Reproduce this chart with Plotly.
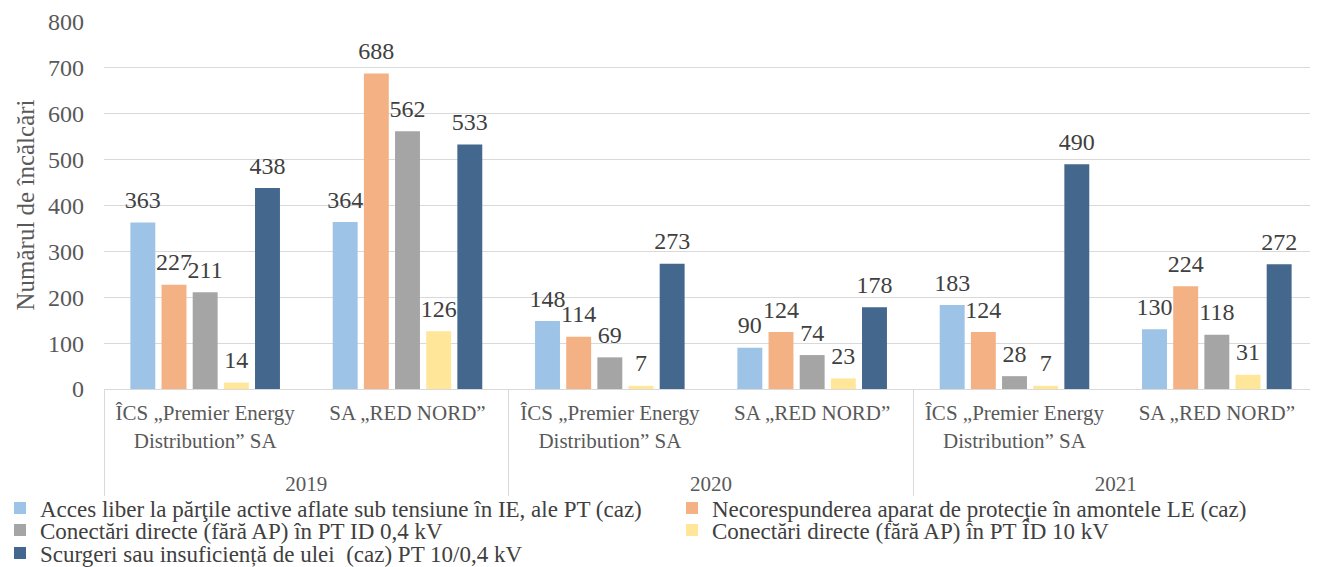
import plotly.graph_objects as go

years = ["2019", "2019", "2020", "2020", "2021", "2021"]
companies = ["ÎCS „Premier Energy<br>Distribution” SA<br><span style=\"font-size:1px\">&nbsp;</span>",
             "SA „RED NORD”"] * 3

series_names = [
    "Acces liber la părţile active aflate sub tensiune în IE, ale PT (caz)",
    "Necorespunderea aparat de protecție în amontele LE (caz)",
    "Conectări directe (fără AP) în PT ID 0,4 kV",
    "Conectări directe (fără AP) în PT ÎD 10 kV",
    "Scurgeri sau insuficiență de ulei  (caz) PT 10/0,4 kV",
]
acces_liber = [363, 364, 148, 90, 183, 130]
necorespundere = [227, 688, 114, 124, 124, 224]
conectari_04 = [211, 562, 69, 74, 28, 118]
conectari_10 = [14, 126, 7, 23, 7, 31]
scurgeri = [438, 533, 273, 178, 490, 272]
series_values = [acces_liber, necorespundere, conectari_04, conectari_10, scurgeri]

colors = ["#9DC3E6", "#F4B183", "#A5A5A5", "#FFE699", "#44678D"]
FONT = "Liberation Serif, Times New Roman, DejaVu Serif, serif"

# page has an 8px body margin: figure drawn at (8, 8)
W, H = 1310, 559
L, T, PW, PH = 96, 14, 1214, 367
# legend slots: (column x in px, row centre in px)
col_x = [-8, 664]
row_y = [500, 522, 545]
slots = [(0, 0), (1, 0), (0, 1), (1, 1), (0, 2)]
legend_ids = ["legend", "legend2", "legend3", "legend4", "legend5"]

fig = go.Figure()
for i, (name, vals) in enumerate(zip(series_names, series_values)):
    fig.add_trace(go.Bar(
        x=[years, companies], y=vals, name=name,
        marker=dict(color=colors[i], line=dict(width=0)),
        offsetgroup=str(i), legend=legend_ids[i],
    ))
for i, vals in enumerate(series_values):
    fig.add_trace(go.Scatter(
        x=[years, companies], y=vals, mode="markers+text",
        text=[str(v) for v in vals], textposition="top center",
        textfont=dict(family=FONT, size=24, color="#404040"),
        marker=dict(size=12, opacity=0),
        offsetgroup=str(i), showlegend=False, hoverinfo="skip",
        cliponaxis=False,
    ))

legends = {}
for lid, (c, r) in zip(legend_ids, slots):
    legends[lid] = dict(
        orientation="v", xref="paper", yref="container",
        x=(col_x[c] - L) / PW, y=1 - row_y[r] / H,
        xanchor="left", yanchor="middle",
        font=dict(family=FONT, size=23, color="#404040"),
        itemwidth=30, bgcolor="rgba(0,0,0,0)", borderwidth=0,
    )

fig.update_layout(
    width=W, height=H,
    margin=dict(l=L, r=W - L - PW, t=T, b=H - T - PH, autoexpand=False),
    paper_bgcolor="white", plot_bgcolor="white",
    barmode="group", bargap=0.23, bargroupgap=0.2,
    scattermode="group", scattergap=0.23,
    font=dict(family=FONT, size=20, color="#595959"),
    showlegend=True,
    **legends,
)
fig.add_annotation(
    text="Numărul de încălcări", textangle=-90, showarrow=False,
    xref="paper", yref="paper", x=(17 - L) / PW, y=0.5,
    xanchor="center", yanchor="middle",
    font=dict(family=FONT, size=25, color="#595959"),
)
fig.update_yaxes(
    range=[0, 800], dtick=100, showgrid=True, gridcolor="#D9D9D9", gridwidth=1,
    zeroline=False, showline=False, ticks="", automargin=False,
    ticklabelstandoff=19,
    tickfont=dict(family=FONT, size=24, color="#595959"),
)
fig.update_xaxes(
    type="multicategory", showline=True, linecolor="#D9D9D9", linewidth=1,
    showgrid=False, ticks="", showdividers=True, dividercolor="#D9D9D9", dividerwidth=1,
    automargin=False, ticklabelstandoff=5,
    tickfont=dict(family=FONT, size=21, color="#595959"),
)

fig.write_html("out.html")
